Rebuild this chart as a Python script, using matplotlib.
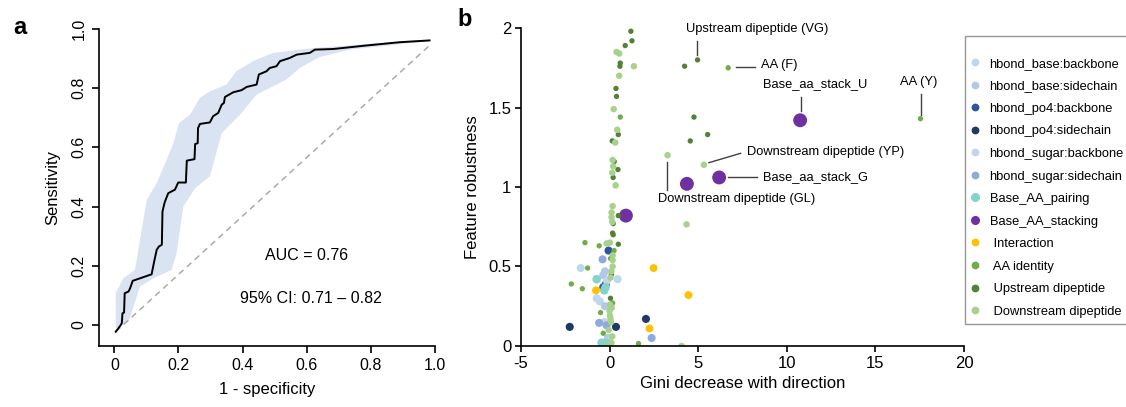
import numpy as np
import matplotlib
matplotlib.use("Agg")
import matplotlib.pyplot as plt
from matplotlib.lines import Line2D

plt.rcParams['font.family'] = ['Liberation Sans', 'DejaVu Sans']
plt.rcParams['axes.unicode_minus'] = False

# ---- panel a: ROC curve with 95% CI band ----
roc_fpr = [0.004, 0.018, 0.023, 0.025, 0.030, 0.032, 0.044, 0.049, 0.057, 0.116, 0.124,
           0.132, 0.139, 0.148, 0.150, 0.156, 0.160, 0.168, 0.189, 0.199, 0.223, 0.226,
           0.250, 0.252, 0.260, 0.261, 0.267, 0.298, 0.308, 0.324, 0.335, 0.342, 0.345,
           0.371, 0.397, 0.413, 0.444, 0.451, 0.475, 0.485, 0.506, 0.517, 0.548, 0.569,
           0.610, 0.626, 0.683, 0.787, 0.891, 0.984]
roc_tpr = [-0.023, -0.003, 0.006, 0.039, 0.042, 0.107, 0.113, 0.124, 0.149, 0.171, 0.214,
           0.254, 0.265, 0.271, 0.383, 0.411, 0.423, 0.445, 0.457, 0.481, 0.481, 0.555,
           0.560, 0.611, 0.614, 0.665, 0.679, 0.684, 0.705, 0.716, 0.744, 0.750, 0.770,
           0.786, 0.793, 0.804, 0.812, 0.846, 0.857, 0.868, 0.874, 0.891, 0.902, 0.913,
           0.919, 0.930, 0.932, 0.944, 0.955, 0.961]

ci_up_x = [0.004, 0.028, 0.064, 0.101, 0.132, 0.163, 0.184, 0.202, 0.236, 0.267, 0.298,
           0.350, 0.381, 0.433, 0.496, 0.579, 0.631, 0.787, 0.984]
ci_up_y = [0.107, 0.158, 0.186, 0.423, 0.479, 0.558, 0.614, 0.682, 0.710, 0.767, 0.789,
           0.812, 0.857, 0.891, 0.919, 0.930, 0.936, 0.949, 0.964]
ci_lo_x = [0.004, 0.044, 0.080, 0.122, 0.179, 0.194, 0.215, 0.252, 0.298, 0.335, 0.392,
           0.444, 0.537, 0.579, 0.641, 0.735, 0.984]
ci_lo_y = [-0.011, 0.011, 0.130, 0.158, 0.186, 0.242, 0.400, 0.462, 0.502, 0.648, 0.710,
           0.778, 0.829, 0.868, 0.905, 0.930, 0.959]

auc_text = "AUC = 0.76"
ci_text = "95% CI: 0.71 \u2013 0.82"

# ---- panel b: feature scatter ----
categories = ["hbond_base:backbone", "hbond_base:sidechain", "hbond_po4:backbone",
              "hbond_po4:sidechain", "hbond_sugar:backbone", "hbond_sugar:sidechain",
              "Base_AA_pairing", "Base_AA_stacking", " Interaction", " AA identity",
              " Upstream dipeptide", " Downstream dipeptide"]
colors = ["#bdd7ee", "#b4c7e7", "#2f5597", "#203864", "#c5d3ec", "#8faadc",
          "#84d3c8", "#7030a0", "#ffc000", "#70ad47", "#548235", "#a9d18e"]
sizes = [34, 34, 34, 34, 34, 34, 38, 100, 32, 15, 15, 22]

base_bb_x = [-1.63, 0.45, -0.73, -0.55]
base_bb_y = [0.49, 0.42, 0.30, 0.28]
base_sc_x = [-0.26, -0.36, -0.26, -0.10]
base_sc_y = [0.47, 0.445, 0.25, 0.05]
po4_bb_x = [-0.06, -0.21, -0.36]
po4_bb_y = [0.60, 0.39, 0.37]
po4_sc_x = [-2.25, 0.36, 2.05]
po4_sc_y = [0.12, 0.12, 0.17]
sugar_bb_x = [-0.15, -0.30, -0.05]
sugar_bb_y = [0.41, 0.15, 0.03]
sugar_sc_x = [-0.40, -0.59, -0.17, 2.37]
sugar_sc_y = [0.545, 0.145, 0.13, 0.05]
pairing_x = [-0.73, -0.23, -0.45, -0.17, -0.30]
pairing_y = [0.42, 0.37, 0.02, 0.02, 0.35]
stacking_x = [10.75, 6.18, 4.36, 0.92]
stacking_y = [1.42, 1.06, 1.02, 0.82]
interaction_x = [2.48, 4.45, 2.25, -0.77]
interaction_y = [0.49, 0.32, 0.11, 0.35]
aa_x = [6.69, 17.54, 0.60, -1.39, -0.59, -1.24, -2.16, -1.54, 0.17, -0.51, -0.36, 1.63, 0.05, 0.25]
aa_y = [1.75, 1.43, 1.44, 0.65, 0.63, 0.49, 0.39, 0.36, 0.27, 0.21, 0.08, 0.015, 0.55, 0.60]
up_x = [1.20, 1.26, 0.88, 0.60, 0.58, 0.36, 0.39, 0.49, 0.15, 0.26, 0.47, 0.20, 0.20, 0.49,
        0.17, 0.20, 0.49, 4.23, 4.96, 4.76, 4.55, 5.53, 0.10, 0.05]
up_y = [1.98, 1.92, 1.89, 1.78, 1.76, 1.62, 1.57, 1.33, 1.29, 1.16, 1.11, 1.06, 0.77, 0.82,
        0.71, 0.70, 0.64, 1.76, 1.80, 1.44, 1.29, 1.33, 0.45, 0.30]
down_x = [0.39, 0.54, 1.37, 0.54, 0.23, 0.43, 0.32, 0.17, 0.20, 0.15, 0.34, 3.27, 5.32, 4.34,
          4.06, 0.17, 0.11, 0.11, 0.15, 0.02, -0.17, 0.17, 0.17, 0.17, 0.10, 0.05, 0.02, 0.02,
          0.00, 0.08, 0.12, 0.05, -0.05, 0.15, 0.10, 0.00]
down_y = [1.85, 1.84, 1.76, 1.70, 1.49, 1.36, 1.28, 1.17, 1.13, 1.09, 1.01, 1.20, 1.14, 0.765,
          0.00, 0.88, 0.84, 0.81, 0.78, 0.65, 0.645, 0.57, 0.54, 0.50, 0.47, 0.43, 0.26, 0.19,
          0.22, 0.15, 0.24, 0.17, 0.10, 0.06, 0.02, 0.01]

series = [(base_bb_x, base_bb_y), (base_sc_x, base_sc_y), (po4_bb_x, po4_bb_y),
          (po4_sc_x, po4_sc_y), (sugar_bb_x, sugar_bb_y), (sugar_sc_x, sugar_sc_y),
          (pairing_x, pairing_y), (stacking_x, stacking_y), (interaction_x, interaction_y),
          (aa_x, aa_y), (up_x, up_y), (down_x, down_y)]
# drawing order: greens first, then the bigger coloured dots on top
draw_order = [9, 10, 11, 8, 0, 1, 4, 5, 2, 3, 6, 7]

# (text, text x, text y, ha, line x0, y0, x1, y1)
labels_b = [
    ("Upstream dipeptide (VG)", 8.35, 1.994, "center", 4.92, 1.83, 4.92, 1.92),
    ("AA (F)", 8.55, 1.77, "left", 7.14, 1.752, 8.23, 1.752),
    ("Base_aa_stack_U", 11.6, 1.647, "center", 10.79, 1.481, 10.79, 1.565),
    ("AA (Y)", 17.42, 1.66, "center", 17.58, 1.454, 17.58, 1.586),
    ("Downstream dipeptide (YP)", 7.76, 1.22, "left", 5.60, 1.153, 7.39, 1.212),
    ("Base_aa_stack_G", 8.65, 1.061, "left", 6.67, 1.061, 8.33, 1.061),
    ("Downstream dipeptide (GL)", 7.14, 0.924, "center", 3.25, 0.981, 3.25, 1.16),
]

fig = plt.figure(figsize=(11.26, 4.07), dpi=100)

# panel a
ax1 = fig.add_axes([0.088, 0.150, 0.298, 0.779])
band_x = ci_up_x + ci_lo_x[::-1]
band_y = ci_up_y + ci_lo_y[::-1]
ax1.fill(band_x, band_y, color="#dae3f1", lw=0)
ax1.plot([0.004, 0.984], [-0.023, 0.944], color="#aaaaaa", lw=1.1, ls=(0, (4, 3)))
ax1.plot(roc_fpr, roc_tpr, color="black", lw=1.4)
ax1.text(0.60, 0.233, auc_text, ha="center", va="center", fontsize=11.5)
ax1.text(0.615, 0.088, ci_text, ha="center", va="center", fontsize=11.5)
ax1.set_xlim(-0.048, 1.0)
ax1.set_ylim(-0.071, 1.0)
ax1.set_xticks([0, 0.2, 0.4, 0.6, 0.8, 1.0])
ax1.set_xticklabels(["0", "0.2", "0.4", "0.6", "0.8", "1.0"])
ax1.set_yticks([0, 0.2, 0.4, 0.6, 0.8, 1.0])
ax1.set_yticklabels(["0", "0.2", "0.4", "0.6", "0.8", "1.0"], rotation=90, va="center")
ax1.spines["top"].set_visible(False)
ax1.spines["right"].set_visible(False)
for s in ("left", "bottom"):
    ax1.spines[s].set_linewidth(1.2)
ax1.tick_params(length=5, width=1.2, labelsize=11.5, pad=4)
ax1.set_xlabel("1 - specificity", fontsize=12, labelpad=6)
ax1.set_ylabel("Sensitivity", fontsize=12, labelpad=8)
fig.text(0.018, 0.933, "a", fontsize=17, fontweight="bold", ha="center", va="center")

# panel b
ax2 = fig.add_axes([0.4627, 0.150, 0.3935, 0.781])
for i in draw_order:
    xs, ys = series[i]
    ax2.scatter(xs, ys, s=sizes[i], color=colors[i], edgecolors="none", zorder=2 + i * 0.01)
for txt, tx, ty, ha, x0, y0, x1, y1 in labels_b:
    ax2.plot([x0, x1], [y0, y1], color="#404040", lw=1.0, zorder=1)
    ax2.text(tx, ty, txt, ha=ha, va="center", fontsize=9.3)
ax2.set_xlim(-5, 20)
ax2.set_ylim(0, 2)
ax2.set_xticks([-5, 0, 5, 10, 15, 20])
ax2.set_yticks([0, 0.5, 1, 1.5, 2])
ax2.set_yticklabels(["0", "0.5", "1", "1.5", "2"])
ax2.spines["top"].set_visible(False)
ax2.spines["right"].set_visible(False)
for s in ("left", "bottom"):
    ax2.spines[s].set_linewidth(1.2)
ax2.tick_params(length=4, width=1.2, labelsize=12, pad=3)
ax2.set_xlabel("Gini decrease with direction", fontsize=12, labelpad=4)
ax2.set_ylabel("Feature robustness", fontsize=12, labelpad=6)
fig.text(0.413, 0.952, "b", fontsize=17, fontweight="bold", ha="center", va="center")

handles = [Line2D([], [], ls="none", marker="o", color=c,
                  markersize=(5.5 if i in (6, 7) else 4.6), label=lab)
           for i, (c, lab) in enumerate(zip(colors, categories))]
leg = fig.legend(handles=handles, loc="upper left", bbox_to_anchor=(0.857, 0.9115),
                 fontsize=9.3, frameon=True, fancybox=False, borderpad=0.5,
                 handlelength=0.6, handletextpad=0.8, labelspacing=0.81,
                 borderaxespad=0, title=" ", title_fontsize=4)
leg.get_frame().set_edgecolor("#7f7f7f")
leg.get_frame().set_linewidth(1.0)

fig.savefig("out.png", dpi=100)
